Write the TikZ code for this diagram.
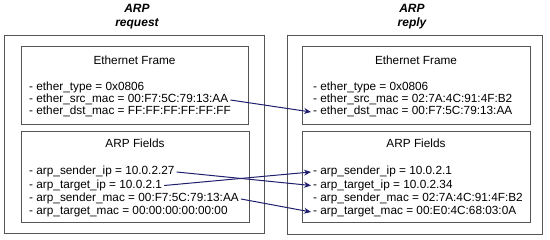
\documentclass[tikz,border=0pt]{standalone}
\usepackage{fontspec}
\setmainfont{Liberation Sans}
\usetikzlibrary{arrows.meta}
\definecolor{boxgray}{HTML}{555555}
\definecolor{navy}{HTML}{1F1F6E}
\begin{document}
\begin{tikzpicture}[x=1pt,y=-1pt,
 box/.style={draw=boxgray, line width=1pt},
 ttl/.style={font=\fontsize{12}{14}\selectfont\bfseries\itshape, align=center, inner sep=0pt},
 hdr/.style={font=\fontsize{11.8}{14}\selectfont, inner sep=0pt},
 fld/.style={font=\fontsize{11.8}{14}\selectfont, anchor=base west, inner xsep=2pt, inner ysep=0pt, text height=8.5pt, text depth=2.5pt},
 link/.style={draw=navy, line width=1pt, -{Stealth[length=7pt,width=6pt]}}]
\useasboundingbox (0,0) rectangle (550,240);
% left side
\node[ttl] (treq) at (137,17) {ARP\\request};
\node[box, minimum width=260pt, minimum height=198pt, inner sep=0pt] (oreq) at (134,135) {};
\node[box, minimum width=227pt, minimum height=78pt, inner sep=0pt] (ereq) at (134.5,86) {};
\node[box, minimum width=228pt, minimum height=91pt, inner sep=0pt] (areq) at (135,177.5) {};
\node[hdr] (ehreq) at (134.5,60) {Ethernet Frame};
\node[hdr] (ahreq) at (135,143) {ARP Fields};
\node[fld] (l1) at (27,91) {- ether\_type = 0x0806};
\node[fld] (l2) at (27,103) {- ether\_src\_mac = 00:F7:5C:79:13:AA};
\node[fld] (l3) at (27,115) {- ether\_dst\_mac = FF:FF:FF:FF:FF:FF};
\node[fld] (l4) at (27,175) {- arp\_sender\_ip = 10.0.2.27};
\node[fld] (l5) at (27,188.5) {- arp\_target\_ip = 10.0.2.1};
\node[fld] (l6) at (27,202) {- arp\_sender\_mac = 00:F7:5C:79:13:AA};
\node[fld] (l7) at (27,215) {- arp\_target\_mac = 00:00:00:00:00:00};
% right side
\node[ttl] (trep) at (412,17) {ARP\\reply};
\node[box, minimum width=255pt, minimum height=199pt, inner sep=0pt] (orep) at (414.5,135.5) {};
\node[box, minimum width=228pt, minimum height=78pt, inner sep=0pt] (erep) at (416,86) {};
\node[box, minimum width=228pt, minimum height=91pt, inner sep=0pt] (arep) at (416,177.5) {};
\node[hdr] (ehrep) at (416,60) {Ethernet Frame};
\node[hdr] (ahrep) at (416,143) {ARP Fields};
\node[fld] (r1) at (311,91) {- ether\_type = 0x0806};
\node[fld] (r2) at (311,103) {- ether\_src\_mac = 02:7A:4C:91:4F:B2};
\node[fld] (r3) at (311,115) {- ether\_dst\_mac = 00:F7:5C:79:13:AA};
\node[fld] (r4) at (311,175) {- arp\_sender\_ip = 10.0.2.1};
\node[fld] (r5) at (311,188.5) {- arp\_target\_ip = 10.0.2.34};
\node[fld] (r6) at (311,202) {- arp\_sender\_mac = 02:7A:4C:91:4F:B2};
\node[fld] (r7) at (311,215) {- arp\_target\_mac = 00:E0:4C:68:03:0A};
% links
\draw[link] (l2.east) -- (r3.west);
\draw[link] (l4.east) -- (r5.west);
\draw[link] (l5.east) -- (r4.west);
\draw[link] (l6.east) -- (r7.west);
\end{tikzpicture}
\end{document}
